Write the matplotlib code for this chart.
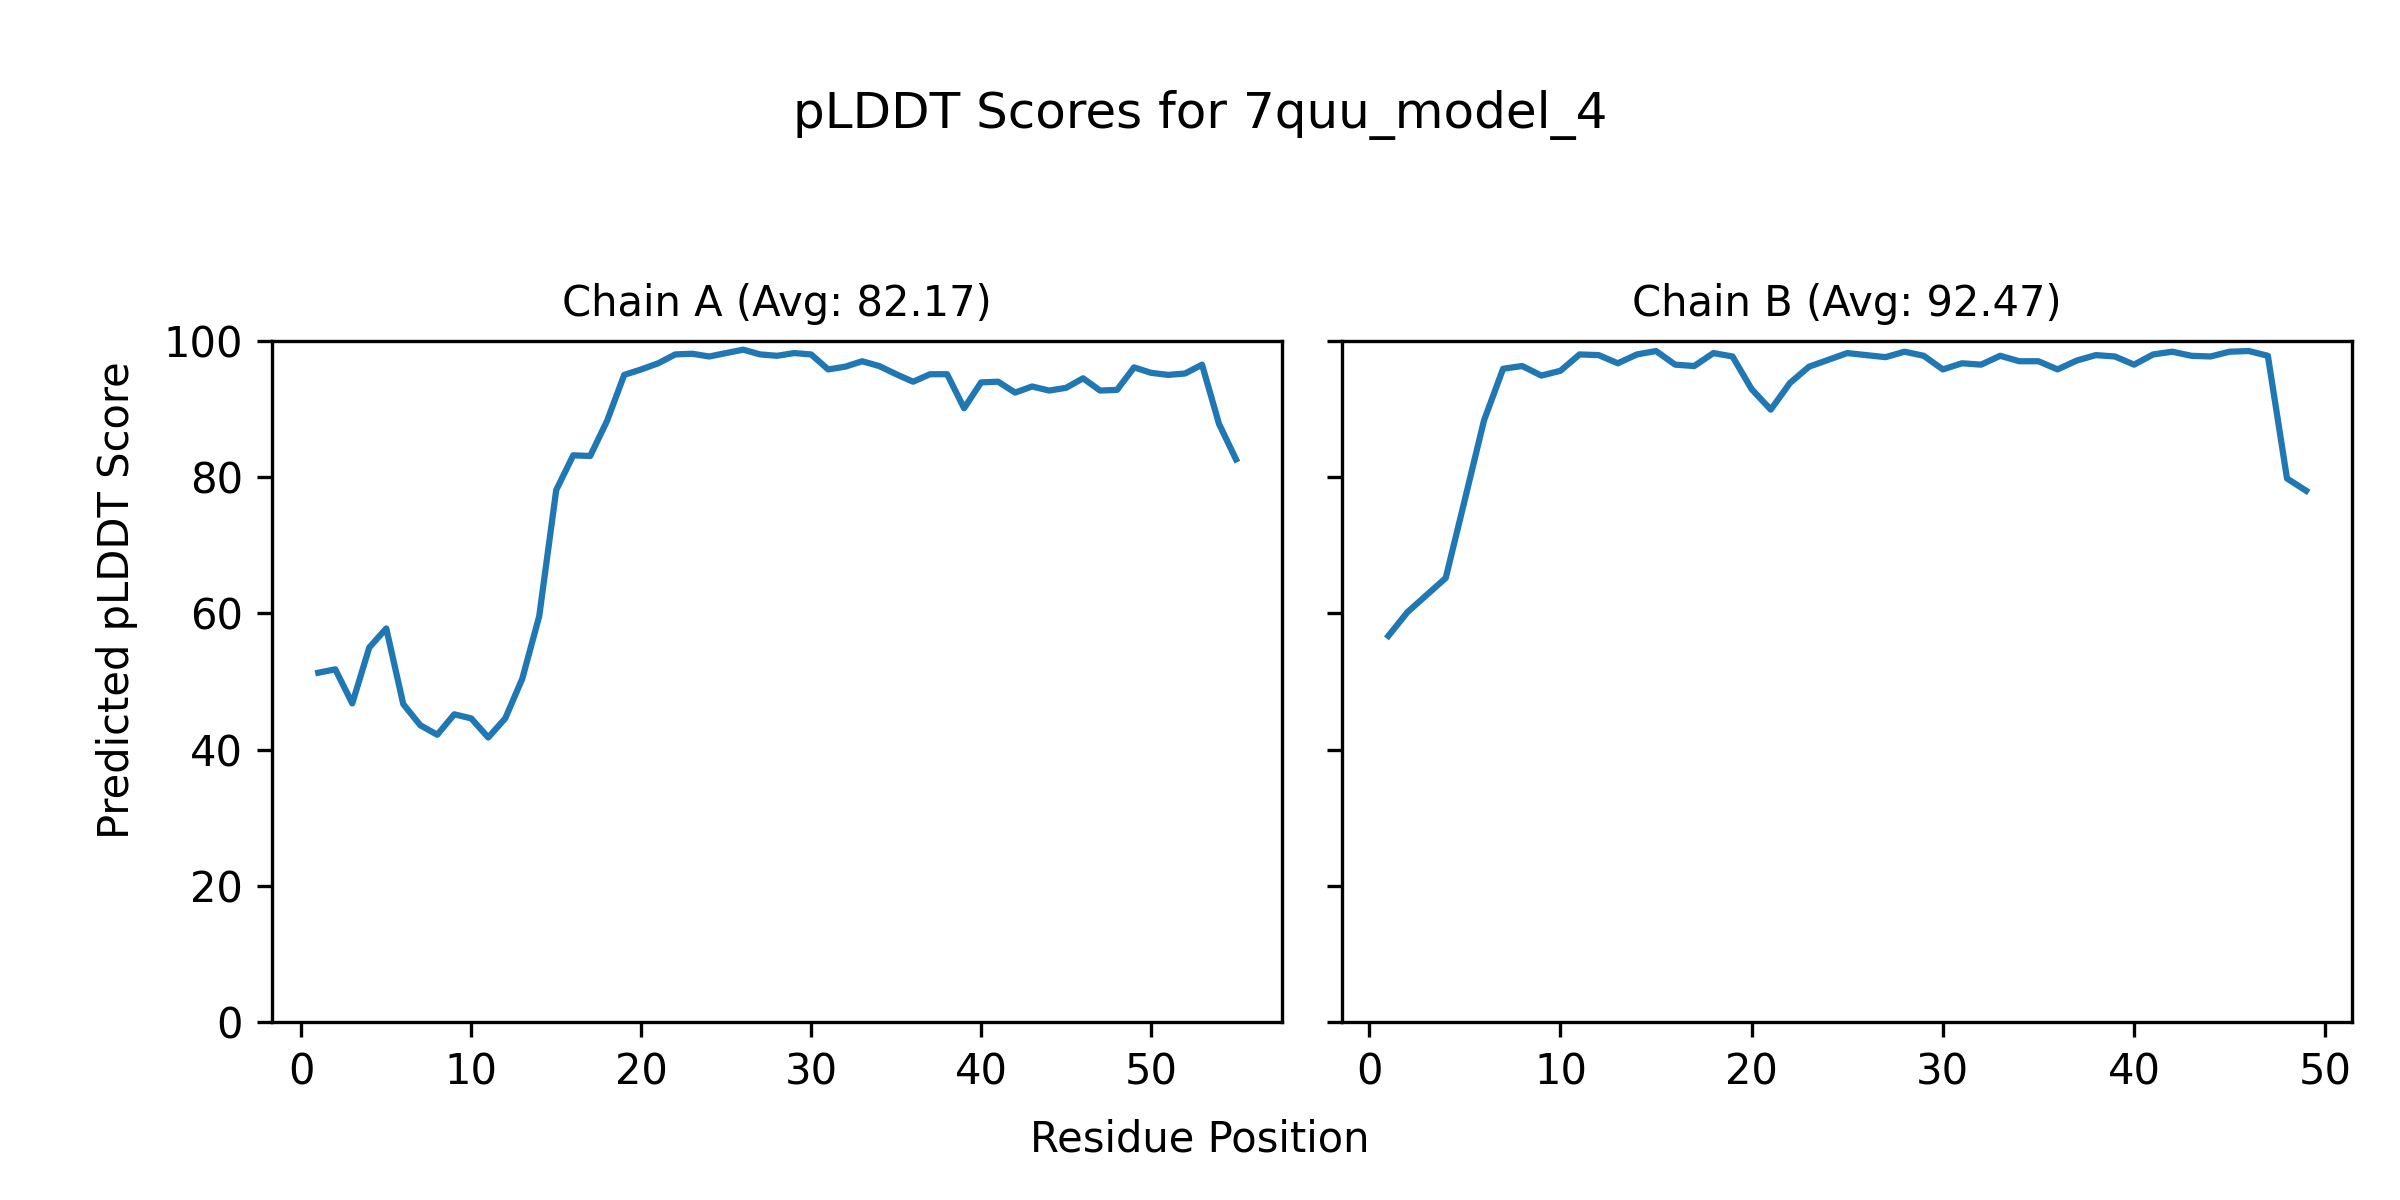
import numpy as np
import matplotlib
matplotlib.use('Agg')
import matplotlib.pyplot as plt

#--------------------------------------------#
# data
model_name = '7quu_model_4'

chain_a_scores = [51.3, 51.8, 46.8, 55.0, 57.8, 46.7, 43.6, 42.2, 45.2, 44.6,
                  41.8, 44.6, 50.4, 59.6, 78.1, 83.2, 83.1, 88.3, 95.0, 95.8,
                  96.7, 98.0, 98.1, 97.7, 98.2, 98.7, 98.0, 97.8, 98.2, 98.0,
                  95.8, 96.2, 97.0, 96.3, 95.1, 94.0, 95.1, 95.1, 90.1, 93.9,
                  94.0, 92.4, 93.3, 92.7, 93.1, 94.5, 92.7, 92.8, 96.1, 95.3,
                  95.0, 95.2, 96.5, 87.8, 82.6]

chain_b_scores = [56.7, 60.2, 62.7, 65.2, 76.7, 88.3, 95.9, 96.3, 94.9, 95.6,
                  98.0, 97.9, 96.7, 98.0, 98.5, 96.5, 96.3, 98.2, 97.7, 92.9,
                  89.9, 93.8, 96.2, 97.2, 98.2, 97.9, 97.6, 98.4, 97.8, 95.8,
                  96.7, 96.5, 97.8, 97.0, 97.0, 95.8, 97.1, 97.9, 97.7, 96.5,
                  98.0, 98.4, 97.8, 97.7, 98.4, 98.5, 97.8, 79.8, 78.0]

chain_names = ['A', 'B']
chain_avgs = [82.17, 92.47]  # as printed in the subplot titles
chains = [chain_a_scores, chain_b_scores]

#--------------------------------------------#
# plot

fig, axes = plt.subplots(1, 2, figsize=(8, 4), dpi=300, sharey=True)

for ax, name, avg, scores in zip(axes, chain_names, chain_avgs, chains):
    pos = np.arange(1, len(scores) + 1)
    ax.plot(pos, scores, color='tab:blue')
    ax.set_title(f'Chain {name} (Avg: {avg:.2f})', fontsize=10)
    ax.set_ylim(0, 100)

fig.suptitle(f'pLDDT Scores for {model_name}', fontsize=12, y=0.925)
# shared labels placed on the figure
fig.text(0.5, 0.04, 'Residue Position', ha='center')
fig.text(0.04, 0.5, 'Predicted pLDDT Score', va='center', rotation='vertical')

plt.subplots_adjust(left=0.1135, right=0.98, bottom=0.148, top=0.716, wspace=0.06)
plt.savefig('out.png', dpi=300)
